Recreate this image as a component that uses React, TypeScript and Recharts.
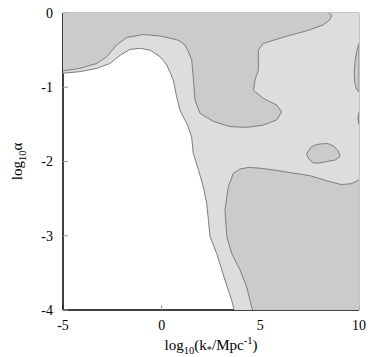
import React from 'react';
import { ScatterChart, Scatter, XAxis, YAxis, ReferenceLine } from 'recharts';

type Pt = { x: number; y: number };

const xTicks = [-5, 0, 5, 10];
const yTicks = [-4, -3, -2, -1, 0];

// outer contour: light region lies above / right of it
const outerContour: Pt[] = [
  { x: -5, y: -0.81 }, { x: -4.14, y: -0.79 }, { x: -3.29, y: -0.745 }, { x: -2.62, y: -0.68 },
  { x: -2.11, y: -0.57 }, { x: -1.6, y: -0.49 }, { x: -1.1, y: -0.475 }, { x: -0.59, y: -0.5 },
  { x: -0.08, y: -0.59 }, { x: 0.26, y: -0.7 }, { x: 0.59, y: -0.9 }, { x: 0.76, y: -1.13 },
  { x: 0.93, y: -1.31 }, { x: 1.1, y: -1.4 }, { x: 1.3, y: -1.5 }, { x: 1.52, y: -1.67 },
  { x: 1.6, y: -1.89 }, { x: 1.86, y: -2.11 }, { x: 2.11, y: -2.34 }, { x: 2.28, y: -2.56 },
  { x: 2.37, y: -2.79 }, { x: 2.45, y: -3.01 }, { x: 2.79, y: -3.24 }, { x: 3.21, y: -3.6 },
  { x: 3.55, y: -3.87 }, { x: 3.67, y: -4 },
];

// inner contour along the top, from the left edge to the top edge
const innerTopContour: Pt[] = [
  { x: -5, y: -0.78 }, { x: -4.14, y: -0.745 }, { x: -3.29, y: -0.68 }, { x: -2.79, y: -0.59 },
  { x: -2.28, y: -0.43 }, { x: -1.77, y: -0.33 }, { x: -0.93, y: -0.29 }, { x: -0.08, y: -0.31 },
  { x: 0.76, y: -0.36 }, { x: 0.93, y: -0.38 }, { x: 1.18, y: -0.43 }, { x: 1.35, y: -0.52 },
  { x: 1.52, y: -0.63 }, { x: 1.6, y: -0.86 }, { x: 1.69, y: -1.17 }, { x: 1.94, y: -1.35 },
  { x: 2.62, y: -1.46 }, { x: 3.46, y: -1.53 }, { x: 4.31, y: -1.54 }, { x: 5.15, y: -1.51 },
  { x: 5.83, y: -1.44 }, { x: 6.08, y: -1.33 }, { x: 5.83, y: -1.24 }, { x: 5.15, y: -1.15 },
  { x: 4.65, y: -1.04 }, { x: 4.73, y: -0.9 }, { x: 4.9, y: -0.77 }, { x: 4.9, y: -0.5 },
  { x: 5.15, y: -0.41 }, { x: 6.0, y: -0.34 }, { x: 6.5, y: -0.3 }, { x: 7.35, y: -0.24 },
  { x: 8.19, y: -0.16 }, { x: 8.53, y: -0.09 }, { x: 8.62, y: -0.03 }, { x: 8.45, y: 0 },
];

// inner contour at the lower right, from the bottom axis to the right edge
const innerBottomContour: Pt[] = [
  { x: 4.61, y: -4 }, { x: 4.56, y: -3.96 }, { x: 4.31, y: -3.69 }, { x: 3.97, y: -3.46 },
  { x: 3.55, y: -3.24 }, { x: 3.3, y: -3.01 }, { x: 3.21, y: -2.65 }, { x: 3.38, y: -2.34 },
  { x: 3.63, y: -2.16 }, { x: 3.97, y: -2.1 }, { x: 4.4, y: -2.08 }, { x: 4.98, y: -2.09 },
  { x: 5.83, y: -2.12 }, { x: 6.5, y: -2.15 }, { x: 7.0, y: -2.17 }, { x: 7.5, y: -2.19 },
  { x: 8.0, y: -2.23 }, { x: 8.5, y: -2.27 }, { x: 9.1, y: -2.31 }, { x: 9.6, y: -2.3 },
  { x: 10, y: -2.25 },
];

const island: Pt[] = [
  { x: 7.35, y: -1.89 }, { x: 7.6, y: -1.8 }, { x: 7.86, y: -1.77 }, { x: 8.2, y: -1.76 },
  { x: 8.45, y: -1.76 }, { x: 8.75, y: -1.8 }, { x: 8.95, y: -1.86 }, { x: 9.04, y: -1.93 },
  { x: 8.8, y: -1.98 }, { x: 8.36, y: -2.0 }, { x: 8.0, y: -2.02 }, { x: 7.69, y: -2.02 },
  { x: 7.5, y: -1.98 }, { x: 7.38, y: -1.93 },
];

const edgeSliverA: Pt[] = [
  { x: 10, y: -0.41 }, { x: 9.88, y: -0.52 }, { x: 9.8, y: -0.65 }, { x: 9.76, y: -0.8 },
  { x: 9.79, y: -0.95 }, { x: 9.88, y: -1.03 }, { x: 10, y: -1.06 },
];

const edgeSliverB: Pt[] = [
  { x: 10, y: -1.34 }, { x: 9.94, y: -1.42 }, { x: 10, y: -1.5 },
];

const lightRegion = [...outerContour, { x: 10, y: -4 }, { x: 10, y: 0 }, { x: -5, y: 0 }];
const darkTopRegion = [...innerTopContour, { x: -5, y: 0 }];
const darkBottomRegion = [...innerBottomContour, { x: 10, y: -4 }];

const LIGHT = '#dddddd';
const DARK = '#cbcbcb';
const EDGE = '#7d7d7d';
const FONT = '"Liberation Serif", "Times New Roman", serif';

const noDot = () => <g />;

const xTitle = (props: any) => {
  const vb = props.viewBox;
  return (
    <text x={vb.x + vb.width / 2} y={vb.y + 40} textAnchor="middle" fontFamily={FONT} fontSize={15} fill="#000">
      log<tspan fontSize={10.5} dy={4}>10</tspan>
      <tspan dy={-4}>(k</tspan>
      <tspan fontSize={10.5} dy={3}>*</tspan>
      <tspan dy={-3}>/Mpc</tspan>
      <tspan fontSize={10.5} dy={-6}>-1</tspan>
      <tspan dy={6}>)</tspan>
    </text>
  );
};

const yTitle = (props: any) => {
  const vb = props.viewBox;
  const cx = 21.5;
  const cy = vb.y + vb.height / 2;
  return (
    <text x={cx} y={cy} transform={`rotate(-90 ${cx} ${cy})`} textAnchor="middle" fontFamily={FONT} fontSize={15} fill="#000">
      log<tspan fontSize={10.5} dy={4}>10</tspan>
      <tspan dy={-4}>α</tspan>
    </text>
  );
};

const tickStyle = { fill: '#000', fontSize: 14, fontFamily: FONT };

export default function App() {
  return (
    <div>
      <style>{'body { margin: 0; }'}</style>
      <ScatterChart width={369} height={357} margin={{ top: 13, right: 10, bottom: 0, left: 0 }}>
        <Scatter data={lightRegion} line={{ fill: LIGHT, stroke: 'none' }} shape={noDot} isAnimationActive={false} legendType="none" />
        <Scatter data={darkTopRegion} line={{ fill: DARK, stroke: 'none' }} shape={noDot} isAnimationActive={false} legendType="none" />
        <Scatter data={darkBottomRegion} line={{ fill: DARK, stroke: 'none' }} shape={noDot} isAnimationActive={false} legendType="none" />
        <Scatter data={outerContour} line={{ stroke: EDGE, strokeWidth: 1 }} shape={noDot} isAnimationActive={false} legendType="none" />
        <Scatter data={innerTopContour} line={{ stroke: EDGE, strokeWidth: 1 }} shape={noDot} isAnimationActive={false} legendType="none" />
        <Scatter data={innerBottomContour} line={{ stroke: EDGE, strokeWidth: 1 }} shape={noDot} isAnimationActive={false} legendType="none" />
        <Scatter data={island} line={{ fill: DARK, stroke: EDGE, strokeWidth: 1 }} lineJointType="linearClosed" shape={noDot} isAnimationActive={false} legendType="none" />
        <Scatter data={edgeSliverA} line={{ fill: DARK, stroke: EDGE, strokeWidth: 1 }} lineJointType="linearClosed" shape={noDot} isAnimationActive={false} legendType="none" />
        <Scatter data={edgeSliverB} line={{ fill: DARK, stroke: EDGE, strokeWidth: 1 }} lineJointType="linearClosed" shape={noDot} isAnimationActive={false} legendType="none" />
        <ReferenceLine y={0} stroke="#8a8a8a" />
        <ReferenceLine x={10} stroke="#8a8a8a" />
        <XAxis
          type="number"
          dataKey="x"
          domain={[-5, 10]}
          allowDataOverflow
          ticks={xTicks}
          interval={0}
          height={47}
          tickSize={-5}
          tickMargin={15}
          axisLine={{ stroke: '#000', strokeWidth: 1.5 }}
          tickLine={{ stroke: '#999' }}
          tick={tickStyle}
          label={xTitle}
        />
        <YAxis
          type="number"
          dataKey="y"
          domain={[-4, 0]}
          allowDataOverflow
          ticks={yTicks}
          interval={0}
          width={63}
          tickSize={-5}
          tickMargin={15}
          axisLine={{ stroke: '#000', strokeWidth: 1.5 }}
          tickLine={{ stroke: '#999' }}
          tick={tickStyle}
          label={yTitle}
        />
      </ScatterChart>
    </div>
  );
}
